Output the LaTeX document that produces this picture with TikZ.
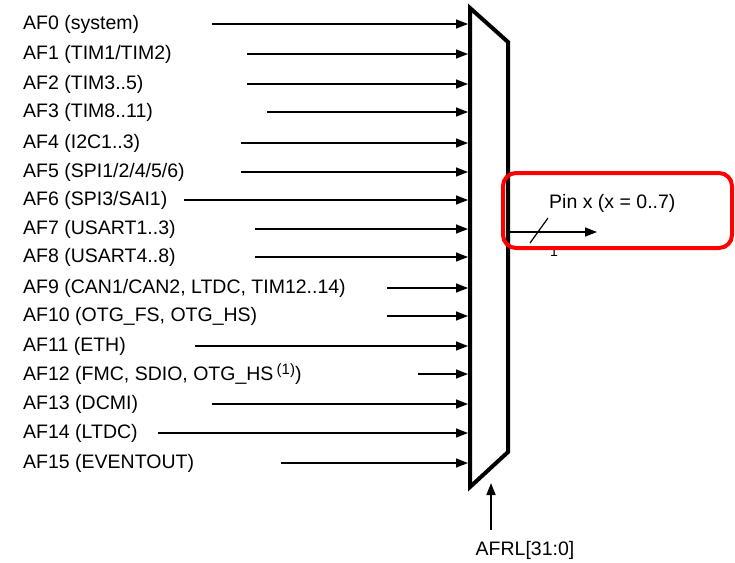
\documentclass[tikz,border=0pt]{standalone}
\usepackage{fontspec}
\setmainfont{Liberation Sans}
\usetikzlibrary{arrows.meta}
\newcommand{\notemark}[1]{\raisebox{5.5pt}{\fontsize{15}{16}\selectfont #1}}
\begin{document}
\begin{tikzpicture}[x=1pt,y=-1pt,
  lbl/.style={anchor=west,inner sep=0pt,font=\fontsize{19.5}{22}\selectfont},
  sig/.style={-{Triangle[length=12pt,width=9pt]},line width=1.5pt},
  muxline/.style={line width=4pt,line join=miter}]
\useasboundingbox (0,0) rectangle (735,562);
% multiplexer
\coordinate (m1) at (470,8);
\coordinate (m2) at (508,42);
\coordinate (m3) at (508,452);
\coordinate (m4) at (470,487);
\draw[muxline] (m1) -- (m2) -- (m3) -- (m4) -- cycle;
% inputs
\foreach \i/\t/\y/\xs in {
 0/{AF0 (system)}/24/212,
 1/{AF1 (TIM1/TIM2)}/54/247,
 2/{AF2 (TIM3..5)}/84/247,
 3/{AF3 (TIM8..11)}/112/267,
 4/{AF4 (I2C1..3)}/143/241,
 5/{AF5 (SPI1/2/4/5/6)}/172/241,
 6/{AF6 (SPI3/SAI1)}/200/184,
 7/{AF7 (USART1..3)}/229/255,
 8/{AF8 (USART4..8)}/257/255,
 9/{AF9 (CAN1/CAN2, LTDC, TIM12..14)}/288/387,
 10/{AF10 (OTG\_FS, OTG\_HS)}/316/387,
 11/{AF11 (ETH)}/346/195,
 12/{AF12 (FMC, SDIO, OTG\_HS\,\notemark{(1)})}/374/418,
 13/{AF13 (DCMI)}/404/212,
 14/{AF14 (LTDC)}/433/158,
 15/{AF15 (EVENTOUT)}/463/281}
{
 \node[lbl] (l\i) at (23,\y) {\t};
 \coordinate (s\i) at (\xs,\y);
 \coordinate (e\i) at (468,\y);
 \draw[sig] (s\i) -- (e\i);
}
% output
\coordinate (o1) at (510,232);
\coordinate (o2) at (597,232);
\draw[sig] (o1) -- (o2);
\coordinate (k1) at (548,218);
\coordinate (k2) at (530,243);
\draw[line width=1.2pt] (k1) -- (k2);
\node[lbl] (pin) at (549,203) {Pin x (x = 0..7)};
\node[inner sep=0pt,font=\fontsize{14}{16}\selectfont] (one) at (554,252) {1};
% highlight
\draw[red,line width=4pt,rounded corners=13pt] (503,173) rectangle (732,248);
% select
\coordinate (a1) at (491,530);
\coordinate (a2) at (491,483);
\draw[sig] (a1) -- (a2);
\node[inner sep=0pt,font=\fontsize{19.5}{22}\selectfont] (afrl) at (525,550) {AFRL[31:0]};
\end{tikzpicture}
\end{document}
